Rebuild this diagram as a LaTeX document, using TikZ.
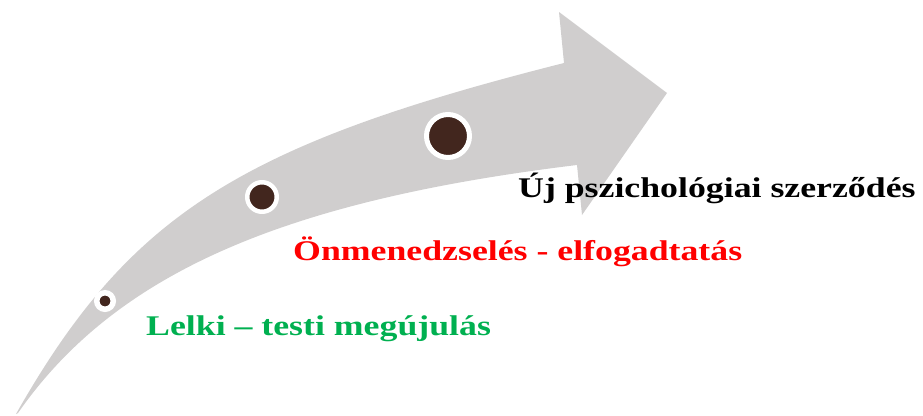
\documentclass[tikz,border=0pt]{standalone}
\usepackage{fontspec}
\setmainfont{Liberation Serif}[FakeStretch=1.255]
\definecolor{arrowgray}{HTML}{D0CECE}
\definecolor{dotbrown}{HTML}{42261E}
\definecolor{stepgreen}{HTML}{00B050}
\definecolor{stepred}{HTML}{FF0000}
\tikzset{
  dotmark/.style={circle, fill=dotbrown, draw=white, inner sep=0pt},
  steplabel/.style={anchor=base west, inner sep=0pt, font=\bfseries\fontsize{28.5}{32}\selectfont}
}
\begin{document}
\begin{tikzpicture}[x=1pt,y=-1pt]
\useasboundingbox (0,0) rectangle (923,415);
\fill[arrowgray] (16,414) .. controls (129,215) and (239,145) .. (564,63)
  -- (559,12) -- (667,93) -- (582,215) -- (577,165)
  .. controls (281,201) and (114.6,274.4) .. (18,413) -- cycle;
\node[dotmark, line width=5.5pt, minimum size=16.5pt] (d1) at (105,301) {};
\node[dotmark, line width=4.5pt, minimum size=29.5pt] (d2) at (262,197) {};
\node[dotmark, line width=5pt, minimum size=43pt] (d3) at (448,136) {};
\node[steplabel, text=stepgreen] (t1) at (146,335) {Lelki – testi megújulás};
\node[steplabel, text=stepred] (t2) at (293,260) {Önmenedzselés - elfogadtatás};
\node[steplabel, text=black] (t3) at (518,197) {Új pszichológiai szerződés};
\end{tikzpicture}
\end{document}
